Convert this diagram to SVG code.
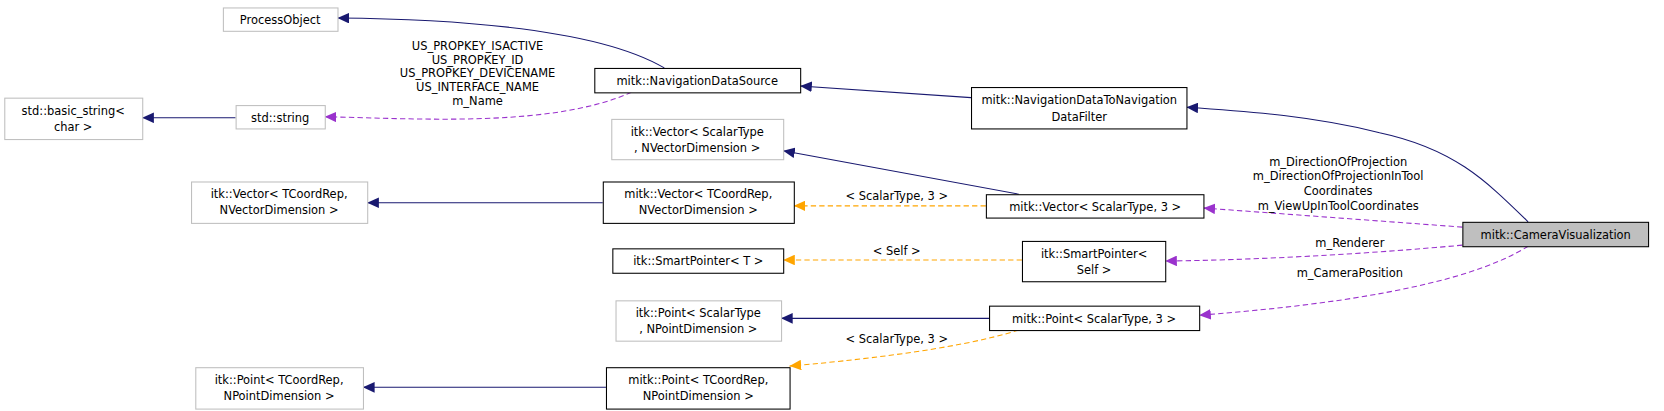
<svg xmlns="http://www.w3.org/2000/svg" width="1664" height="411" viewBox="0 0 1664 411">
<style>
text{font-family:"DejaVu Sans Condensed","DejaVu Sans",sans-serif;font-size:12px;text-anchor:middle;fill:#000}
.g{fill:#fff;stroke:#bfbfbf;stroke-width:1}
.b{fill:#fff;stroke:#000;stroke-width:1}
.m{fill:#bfbfbf;stroke:#000;stroke-width:1}
.i{fill:none;stroke:#191970;stroke-width:1}
.u{fill:none;stroke:#9a32cd;stroke-width:1;stroke-dasharray:5,3}
.o{fill:none;stroke:#ffa500;stroke-width:1;stroke-dasharray:5,3}
</style>
<defs>
<marker id="ai" markerWidth="12" markerHeight="10" refX="11" refY="5" orient="auto" markerUnits="userSpaceOnUse"><path d="M0,0 L11,5 L0,10 Z" fill="#191970"/></marker>
<marker id="au" markerWidth="12" markerHeight="10" refX="11" refY="5" orient="auto" markerUnits="userSpaceOnUse"><path d="M0,0 L11,5 L0,10 Z" fill="#9a32cd"/></marker>
<marker id="ao" markerWidth="12" markerHeight="10" refX="11" refY="5" orient="auto" markerUnits="userSpaceOnUse"><path d="M0,0 L11,5 L0,10 Z" fill="#ffa500"/></marker>
</defs>
<g transform="scale(1.0612)">
<g id="edges">
<path class="i" marker-end="url(#ai)" d="M626,64 C560,25 420,18 318,17"/>
<path class="i" marker-end="url(#ai)" d="M222,111 L134,111"/>
<path class="u" marker-end="url(#au)" d="M595,87 C520,120 400,112 306,110"/>
<text x="450" y="47">US_PROPKEY_ISACTIVE</text>
<text x="450" y="60">US_PROPKEY_ID</text>
<text x="450" y="73">US_PROPKEY_DEVICENAME</text>
<text x="450" y="86">US_INTERFACE_NAME</text>
<text x="450" y="99">m_Name</text>
<path class="i" marker-end="url(#ai)" d="M915,92 L754,81"/>
<path class="i" marker-end="url(#ai)" d="M1440,209 C1400,170 1370,140 1300,125 C1240,110 1180,105 1118,101"/>
<path class="i" marker-end="url(#ai)" d="M960,183 L738,142"/>
<path class="i" marker-end="url(#ai)" d="M568,191 L346,191"/>
<path class="o" marker-end="url(#ao)" d="M929,194 L748,194"/>
<text x="845" y="188">&lt; ScalarType, 3 &gt;</text>
<path class="u" marker-end="url(#au)" d="M1378,214 L1134,196"/>
<text x="1261" y="156">m_DirectionOfProjection</text>
<text x="1261" y="170">m_DirectionOfProjectionInTool</text>
<text x="1261" y="184">Coordinates</text>
<text x="1261" y="198">m_ViewUpInToolCoordinates</text>
<path class="o" marker-end="url(#ao)" d="M963,245 L738,245"/>
<text x="845" y="240">&lt; Self &gt;</text>
<path class="u" marker-end="url(#au)" d="M1378,231 C1280,240 1180,245 1098,246"/>
<text x="1272" y="233">m_Renderer</text>
<path class="u" marker-end="url(#au)" d="M1440,232 C1380,270 1250,288 1130,297"/>
<text x="1272" y="261">m_CameraPosition</text>
<path class="i" marker-end="url(#ai)" d="M932,300 L736,300"/>
<path class="o" marker-end="url(#ao)" d="M960,311 C900,330 800,340 744,345"/>
<text x="845" y="323">&lt; ScalarType, 3 &gt;</text>
<path class="i" marker-end="url(#ai)" d="M571,365 L342,365"/>
</g>
<g id="ProcessObject"><rect class="g" x="210.5" y="7.5" width="108" height="22"/><text x="264" y="23">ProcessObject</text></g>
<g id="basic_string"><rect class="g" x="4.5" y="92.5" width="130" height="39"/><text x="69" y="108">std::basic_string&lt;</text><text x="69" y="123">char &gt;</text></g>
<g id="string"><rect class="g" x="222.5" y="99.5" width="84" height="22"/><text x="264" y="115">std::string</text></g>
<g id="NavigationDataSource"><rect class="b" x="560.5" y="64.5" width="194" height="23"/><text x="657" y="80">mitk::NavigationDataSource</text></g>
<g id="Filter"><rect class="b" x="915.5" y="82.5" width="203" height="39"/><text x="1017" y="98">mitk::NavigationDataToNavigation</text><text x="1017" y="114">DataFilter</text></g>
<g id="itkVectorScalar"><rect class="g" x="576.5" y="112.5" width="162" height="38"/><text x="657" y="128">itk::Vector&lt; ScalarType</text><text x="657" y="143">, NVectorDimension &gt;</text></g>
<g id="itkVectorTCoord"><rect class="g" x="180.5" y="171.5" width="166" height="39"/><text x="263" y="187">itk::Vector&lt; TCoordRep,</text><text x="263" y="202">NVectorDimension &gt;</text></g>
<g id="mitkVectorTCoord"><rect class="b" x="568.5" y="171.5" width="180" height="39"/><text x="658" y="187">mitk::Vector&lt; TCoordRep,</text><text x="658" y="202">NVectorDimension &gt;</text></g>
<g id="mitkVectorScalar3"><rect class="b" x="929.5" y="183.5" width="205" height="22"/><text x="1032" y="199">mitk::Vector&lt; ScalarType, 3 &gt;</text></g>
<g id="SmartPointerT"><rect class="b" x="577.5" y="234.5" width="161" height="23"/><text x="658" y="250">itk::SmartPointer&lt; T &gt;</text></g>
<g id="SmartPointerSelf"><rect class="b" x="963.5" y="227.5" width="135" height="38"/><text x="1031" y="243">itk::SmartPointer&lt;</text><text x="1031" y="258">Self &gt;</text></g>
<g id="itkPointScalar"><rect class="g" x="580.5" y="283.5" width="156" height="38"/><text x="658" y="299">itk::Point&lt; ScalarType</text><text x="658" y="314">, NPointDimension &gt;</text></g>
<g id="mitkPointScalar3"><rect class="b" x="932.5" y="288.5" width="198" height="23"/><text x="1031" y="304">mitk::Point&lt; ScalarType, 3 &gt;</text></g>
<g id="itkPointTCoord"><rect class="g" x="184.5" y="346.5" width="158" height="39"/><text x="263" y="362">itk::Point&lt; TCoordRep,</text><text x="263" y="377">NPointDimension &gt;</text></g>
<g id="mitkPointTCoord"><rect class="b" x="571.5" y="346.5" width="173" height="39"/><text x="658" y="362">mitk::Point&lt; TCoordRep,</text><text x="658" y="377">NPointDimension &gt;</text></g>
<g id="CameraVisualization"><rect class="m" x="1378.5" y="209.5" width="175" height="23"/><text x="1466" y="225">mitk::CameraVisualization</text></g>
</g>
</svg>
